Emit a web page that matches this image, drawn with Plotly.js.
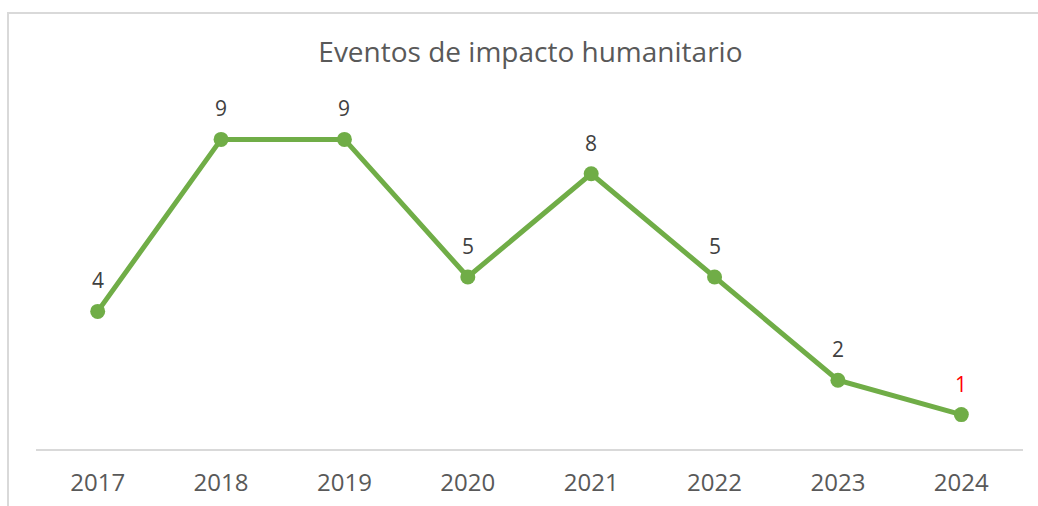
<!DOCTYPE html>
<html>
<head>
<meta charset="utf-8">
<script src="https://cdn.plot.ly/plotly-3.0.1.min.js"></script>
<style>
html,body{margin:0;padding:0;background:#fff;overflow:hidden;}
#frame{position:absolute;left:7px;top:12px;width:1200px;height:700px;border-left:2px solid #d9d9d9;border-top:2px solid #d9d9d9;}
#chart{position:absolute;left:0;top:0;width:1038px;height:506px;}
</style>
</head>
<body>
<div id="frame"></div>
<div id="chart"></div>
<script>
const years = ["2017","2018","2019","2020","2021","2022","2023","2024"];
const events = [4, 9, 9, 5, 8, 5, 2, 1];
const labelColors = ["#404040","#404040","#404040","#404040","#404040","#404040","#404040","#ff0000"];

const font = "'Open Sans', 'Noto Sans', sans-serif";

const trace = {
  x: years, y: events, type: "scatter", mode: "lines+markers",
  line: {color: "#70ad47", width: 5},
  marker: {color: "#70ad47", size: 15},
  hoverinfo: "x+y"
};

const annotations = years.map((yr, i) => ({
  x: i, y: events[i], xref: "x", yref: "y",
  text: String(events[i]), showarrow: false, yshift: 31,
  font: {family: font, size: 21, color: labelColors[i]}
}));

const layout = {
  width: 1038, height: 506,
  paper_bgcolor: "rgba(0,0,0,0)", plot_bgcolor: "rgba(0,0,0,0)",
  margin: {l: 36.4, r: 15.4, t: 104.5, b: 56.5, pad: 0},
  showlegend: false,
  title: {
    text: "Eventos de impacto humanitario",
    font: {family: font, size: 28, color: "#595959"},
    x: 0.511, xanchor: "center", xref: "container",
    y: 1 - 52/506, yanchor: "middle", yref: "container"
  },
  xaxis: {
    type: "category", range: [-0.5, 7.5], showgrid: false, zeroline: false,
    showline: true, linecolor: "#d9d9d9", linewidth: 2,
    ticks: "", ticklabelstandoff: 11,
    tickfont: {family: font, size: 24, color: "#595959"}
  },
  yaxis: {
    range: [0, 10], showgrid: false, zeroline: false, showline: false,
    showticklabels: false, ticks: ""
  },
  annotations: annotations
};

Plotly.newPlot("chart", [trace], layout, {displayModeBar: false, staticPlot: true});
</script>
</body>
</html>
